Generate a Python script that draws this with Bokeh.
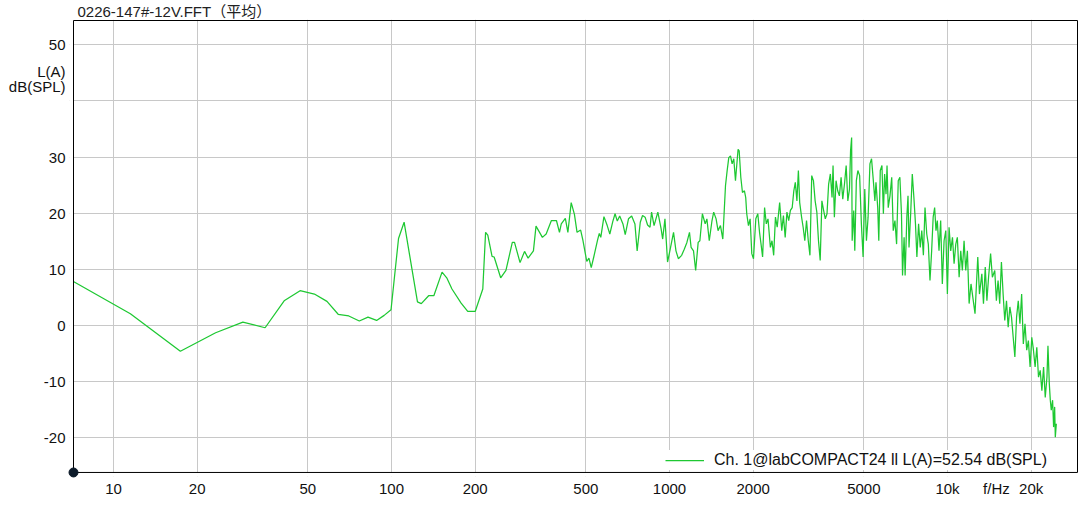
from bokeh.plotting import figure
from bokeh.models import Range1d, FixedTicker, Legend, LegendItem, BoxAnnotation
from bokeh.embed import file_html
from bokeh.resources import INLINE

title_text = "0226-147#-12V.FFT（平均）"
legend_label = "Ch. 1@labCOMPACT24 ll L(A)=52.54 dB(SPL)"
x_ticks = [10, 20, 50, 100, 200, 500, 1000, 2000, 5000, 10000, 15000, 20000]
x_tick_labels = ["10", "20", "50", "100", "200", "500", "1000", "2000", "5000", "10k", "f/Hz", "20k"]
x_grid = [10, 20, 50, 100, 200, 500, 1000, 2000, 5000, 10000, 20000]
y_ticks = [-20, -10, 0, 10, 20, 30, 43.9, 50]
y_tick_labels = ["-20", "-10", "0", "10", "20", "30", "L(A)\ndB(SPL)", "50"]
y_grid = [-20, -10, 0, 10, 20, 30, 40, 50]

freq = [7.2, 11.5, 17.4, 23.3, 29.2, 35.1, 41.1, 46.9, 52.8, 58.6, 64.3, 70.2, 76.6, 82.3, 88.4, 94.1, 99.6,
        106, 111, 124, 128, 136, 142, 152, 158, 165, 178, 188, 200, 213, 218, 222, 230, 234, 247, 258, 272, 277,
        290, 301, 310, 324, 331, 349, 360, 376, 392, 402, 408, 422, 431, 443, 455, 465, 479, 488, 504, 513, 523,
        534, 551, 559, 566, 581, 597, 610, 625, 637, 649, 662, 680, 693, 712, 731, 751, 765, 785, 800, 817, 834,
        851, 862, 880, 908, 933, 945, 963, 984, 1006, 1034, 1055, 1076, 1106, 1130, 1155, 1180, 1196, 1220, 1242,
        1268, 1286, 1313, 1344, 1363, 1390, 1422, 1442, 1471, 1495, 1525, 1555, 1590, 1612, 1634, 1657, 1680,
        1703, 1727, 1751, 1765, 1781, 1805, 1830, 1860, 1880, 1896, 1923, 1950, 1977, 2005, 2044, 2078, 2108,
        2138, 2162, 2198, 2229, 2261, 2306, 2337, 2370, 2405, 2440, 2490, 2534, 2569, 2607, 2645, 2684, 2722,
        2763, 2800, 2835, 2873, 2908, 2940, 2986, 3025, 3067, 3111, 3156, 3200, 3248, 3294, 3341, 3388, 3435,
        3484, 3533, 3584, 3634, 3686, 3736, 3790, 3843, 3875, 3918, 3973, 4027, 4084, 4142, 4200, 4260, 4320,
        4380, 4440, 4480, 4520, 4540, 4600, 4640, 4700, 4760, 4830, 4900, 4970, 5040, 5110, 5180, 5260, 5330,
        5410, 5480, 5530, 5610, 5660, 5730, 5810, 5880, 5940, 6010, 6060, 6120, 6210, 6300, 6380, 6470, 6560,
        6650, 6740, 6830, 6890, 6980, 7040, 7140, 7210, 7270, 7370, 7470, 7570, 7670, 7760, 7870, 7980, 8080,
        8190, 8300, 8420, 8530, 8650, 8770, 8880, 8990, 9090, 9190, 9320, 9450, 9580, 9720, 9860, 9990, 10130,
        10270, 10420, 10560, 10710, 10850, 11010, 11160, 11310, 11470, 11630, 11790, 11960, 12150, 12560, 12850,
        13030, 13290, 13470, 13670, 13860, 14050, 14290, 14500, 14790, 14990, 15200, 15410, 15630, 15850, 16070,
        16300, 16530, 16760, 16990, 17230, 17470, 17720, 17970, 18220, 18480, 18740, 19000, 19270, 19540, 19820,
        20100, 20380, 20660, 20950, 21250, 21550, 21850, 22160, 22470, 22790, 22980, 23240, 23430, 23620, 23880,
        24080, 24290, 24420, 24630]
spl = [7.8, 2.1, -4.6, -1.3, 0.6, -0.4, 4.4, 6.2, 5.6, 4.3, 2.0, 1.7, 0.8, 1.5, 0.9, 1.8, 2.8,
       15.5, 18.4, 4.2, 3.9, 5.3, 5.3, 9.5, 8.5, 6.5, 4.0, 2.5, 2.5, 6.5, 16.6, 16.1, 12.3, 12.2, 8.5, 9.8, 14.8, 14.8,
       11.2, 13.2, 12.0, 13.3, 17.7, 15.7, 16.3, 18.7, 18.7, 16.6, 18.1, 19.1, 16.6, 21.9, 19.8, 16.6, 17.0, 15.2, 11.4, 12.0, 10.3,
       12.2, 15.2, 16.4, 15.7, 19.4, 17.8, 16.3, 18.5, 19.9, 18.6, 19.5, 18.1, 16.2, 19.0, 19.5, 18.1, 13.3, 18.4, 19.6, 19.3, 17.9,
       17.5, 20.2, 17.8, 20.2, 17.2, 15.4, 19.0, 11.3, 13.6, 16.6, 13.3, 11.9, 12.5, 13.6, 14.8, 16.6, 13.9, 13.3, 9.8,
       14.8, 15.1, 19.9, 18.1, 19.0, 15.1, 18.7, 20.2, 19.0, 16.9, 17.8, 15.4, 24.9, 27.6, 29.9, 30.2, 28.8,
       29.7, 25.8, 29.4, 31.4, 31.1, 26.4, 23.7, 24.0, 22.8, 19.9, 17.8, 19.0, 12.8, 11.9, 19.0, 19.9, 16.6,
       14.2, 12.2, 21.0, 18.1, 19.0, 13.9, 15.1, 12.5, 19.3, 17.5, 21.9, 16.9, 19.6, 15.7, 20.2, 18.7, 20.5,
       21.0, 24.0, 25.5, 22.2, 27.6, 21.9, 19.3, 17.5, 15.1, 18.7, 15.1, 12.5, 26.7, 25.8, 22.2, 20.2, 15.1,
       11.6, 22.2, 20.5, 19.0, 19.9, 25.2, 27.0, 22.8, 28.5, 19.3, 25.8, 24.0, 23.1, 26.4, 22.5, 25.2, 28.5,
       22.2, 24.3, 31.1, 33.5, 15.1, 20.5, 13.3, 25.8, 27.6, 26.7, 18.1, 12.2, 24.3, 15.1, 19.3, 28.8, 29.7,
       25.8, 22.2, 25.5, 21.0, 15.1, 27.6, 28.5, 19.9, 27.0, 23.4, 28.5, 21.0, 23.1, 26.4, 16.9, 18.7, 14.5,
       25.8, 26.4, 19.9, 8.9, 15.7, 8.9, 19.3, 23.1, 13.9, 19.9, 27.0, 22.8, 18.1, 12.2, 18.1, 13.9, 16.9,
       12.5, 21.0, 16.3, 14.5, 8.0, 13.3, 19.3, 21.0, 16.9, 18.7, 13.3, 18.7, 7.4, 15.1, 16.9, 5.6, 17.5,
       13.3, 15.7, 11.0, 14.5, 15.7, 8.6, 13.3, 9.8, 15.1, 9.8, 13.3, 3.9, 7.4, 2.1, 12.2,
       5.6, 9.2, 3.9, 10.4, 4.4, 8.6, 12.8, 8.6, 9.8, 4.4, 8.0, 3.9, 11.3, 5.6, 0.9,
       4.4, -0.3, 3.3, 1.5, -2.1, -5.6, 1.5, 4.4, 0.3, 5.6, -3.3, 0.3, -4.4, -2.7, -7.4,
       -2.1, -4.4, -7.4, -3.9, -9.2, -8.0, -11.6, -7.4, -12.8, -9.2, -3.6, -10.4, -13.3, -15.1, -13.3,
       -18.1, -14.5, -19.9, -17.5]

FONT = "Liberation Sans, Arial, 'Noto Sans CJK SC', sans-serif"
# visible frame (axes box) and the slightly larger plot area around it
X0, X1 = 7.18, 29350
Y0, Y1 = -26.18, 54.33
XR0, XR1 = 6.946, 29840
YR0, YR1 = -26.90, 54.51

p = figure(width=1079, height=504, x_axis_type="log", title=title_text,
           x_range=Range1d(XR0, XR1), y_range=Range1d(YR0, YR1),
           output_backend="svg", toolbar_location=None,
           min_border_left=69, min_border_right=0, min_border_top=19, min_border_bottom=28)
p.background_fill_color = "white"
p.border_fill_color = "white"
p.outline_line_color = None

p.title.text_font = FONT
p.title.text_font_size = "15px"
p.title.text_font_style = "normal"
p.title.text_color = "#222222"
p.title.align = "left"
p.title.offset = 8
p.title.standoff = 0

p.xaxis.ticker = FixedTicker(ticks=x_ticks)
p.xaxis.major_label_overrides = {t: l for t, l in zip(x_ticks, x_tick_labels)}
p.yaxis.ticker = FixedTicker(ticks=y_ticks)
p.yaxis.major_label_overrides = {t: l for t, l in zip(y_ticks, y_tick_labels)}
p.yaxis.major_label_text_line_height = 0.85
p.xgrid.ticker = FixedTicker(ticks=x_grid)
p.ygrid.ticker = FixedTicker(ticks=y_grid)
for g in (p.xgrid, p.ygrid):
    g.grid_line_color = "#c8c8c8"
    g.grid_line_width = 1
for ax in (p.xaxis, p.yaxis):
    ax.axis_line_color = None
    ax.major_tick_line_color = None
    ax.minor_tick_line_color = None
    ax.major_tick_out = 0
    ax.major_tick_in = 0
    ax.major_label_text_font = FONT
    ax.major_label_text_font_size = "15px"
    ax.major_label_text_color = "#111111"
p.xaxis.major_label_standoff = 3
p.yaxis.major_label_standoff = 4

r = p.line(freq, spl, line_color="#1ec832", line_width=1.25)

# white margins outside the visible axes box
for kw in (dict(right=X0), dict(left=X1), dict(top=Y0), dict(bottom=Y1)):
    p.add_layout(BoxAnnotation(fill_color="white", fill_alpha=1, line_color=None, **kw))

legend = Legend(items=[LegendItem(label=legend_label, renderers=[r])],
                location=(596, 6), padding=4, spacing=0, margin=0,
                glyph_width=39, glyph_height=20, label_height=20, label_standoff=10, label_width=350,
                border_line_color=None, background_fill_color="white", background_fill_alpha=1,
                label_text_font=FONT, label_text_font_size="16px", label_text_color="#111111")
p.add_layout(legend)

# the black axes box
p.add_layout(BoxAnnotation(left=X0, right=X1, bottom=Y0, top=Y1, fill_alpha=0,
                           line_color="black", line_width=1, line_alpha=1))
dot = p.scatter([X0], [Y0], size=9, fill_color="#0d1b2a", line_color="#0d1b2a")
dot.level = "overlay"

open("out.html", "w").write(file_html(p, INLINE))
